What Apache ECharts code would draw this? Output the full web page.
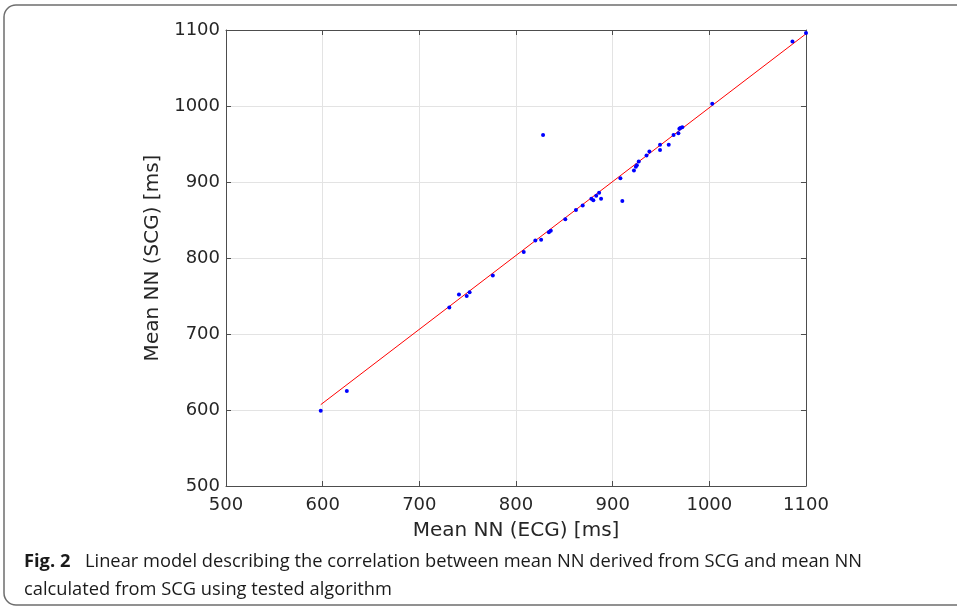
<!DOCTYPE html>
<html><head><meta charset="utf-8">
<script src="https://cdn.jsdelivr.net/npm/echarts@6/dist/echarts.min.js"></script>
<style>html,body{margin:0;padding:0;background:#fff}#c{width:957px;height:608px}</style>
</head><body><div id="c"></div>
<script>
// Mean NN (ECG) [ms]
const ecgValues = [598, 625, 731, 741, 749, 752, 776, 808, 820, 826, 828, 834, 836, 851, 862, 869, 878, 880, 883, 886, 888, 908, 910, 922, 924, 925, 927, 935, 938, 949, 949, 958, 963, 968, 969, 970, 972, 1003, 1086, 1100];
// Mean NN (SCG) [ms]
const scgValues = [599, 625, 735, 752, 750, 755, 777, 808, 823, 824, 962, 834, 836, 851, 863, 869, 878, 876, 882, 886, 878, 905, 875, 915, 920, 922, 927, 935, 940, 949, 942, 949, 962, 964, 970, 971, 972, 1003, 1085, 1096];
// Linear model endpoints
const fitX = [598, 1100];
const fitY = [607, 1095];
const xTicks = [500, 600, 700, 800, 900, 1000, 1100];
const yTicks = [500, 600, 700, 800, 900, 1000, 1100];

const chart = echarts.init(document.getElementById('c'));
const tickFont = {fontFamily: 'DejaVu Sans', fontSize: 18, color: '#262626', formatter: v => String(v)};
const axisLine = {show: true, lineStyle: {color: '#4d4d4d', width: 1}};
const splitLine = {show: true, lineStyle: {color: '#e3e3e3', width: 1}};
const axisTick = {show: true, inside: true, length: 5, lineStyle: {color: '#4d4d4d'}};
const titleFont = {fontFamily: 'DejaVu Sans', fontSize: 20, color: '#262626'};
chart.setOption({
  animation: false,
  graphic: [
    {type: 'rect', shape: {x: 4, y: 5, width: 980, height: 600, r: 12}, style: {fill: 'none', stroke: '#6e6e6e', lineWidth: 1.5}, z: 0},
    {type: 'text', left: 24, top: 553, style: {text: 'Fig. 2', fontFamily: 'Open Sans', fontWeight: 'bold', fontSize: 18.3, fill: '#1a1a1a'}},
    {type: 'text', left: 85, top: 553, style: {text: 'Linear model describing the correlation between mean NN derived from SCG and mean NN', fontFamily: 'Open Sans', fontSize: 18.3, fill: '#1a1a1a'}},
    {type: 'text', left: 24, top: 581, style: {text: 'calculated from SCG using tested algorithm', fontFamily: 'Open Sans', fontSize: 18.3, fill: '#1a1a1a'}}
  ],
  grid: {left: 226, top: 30, right: 151, bottom: 122, show: false},
  xAxis: [
    {type: 'value', min: xTicks[0], max: xTicks[xTicks.length - 1], interval: 100, position: 'bottom',
     name: 'Mean NN (ECG) [ms]', nameLocation: 'middle', nameGap: 35, nameTextStyle: titleFont,
     axisLabel: Object.assign({margin: 10}, tickFont), axisLine, axisTick, splitLine},
    {type: 'value', min: xTicks[0], max: xTicks[xTicks.length - 1], interval: 100, position: 'top',
     axisLabel: {show: false}, axisLine, axisTick, splitLine: {show: false}}
  ],
  yAxis: [
    {type: 'value', min: yTicks[0], max: yTicks[yTicks.length - 1], interval: 100, position: 'left',
     name: 'Mean NN (SCG) [ms]', nameLocation: 'middle', nameGap: 56, nameTextStyle: titleFont,
     axisLabel: Object.assign({margin: 6}, tickFont), axisLine, axisTick, splitLine},
    {type: 'value', min: yTicks[0], max: yTicks[yTicks.length - 1], interval: 100, position: 'right',
     axisLabel: {show: false}, axisLine, axisTick, splitLine: {show: false}}
  ],
  series: [
    {type: 'line', data: fitX.map((x, i) => [x, fitY[i]]), symbol: 'none',
     lineStyle: {color: '#ff0000', width: 1}, z: 2},
    {type: 'scatter', data: ecgValues.map((x, i) => [x, scgValues[i]]), symbolSize: 4,
     itemStyle: {color: '#0000ff', opacity: 1}, z: 3}
  ]
});
</script></body></html>
